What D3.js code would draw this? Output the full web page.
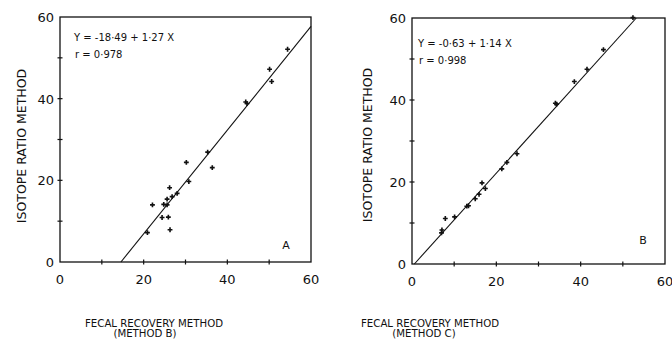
<!DOCTYPE html>
<html>
  <head>
    <script src="https://d3js.org/d3.v7.min.js"></script>
    <style>
      body { margin: 0; background: #fff; }
      text { font-family: "DejaVu Sans", sans-serif; fill: #111; }
    </style>
  </head>
  <body>
    <div id="chart"></div>
    <script>
      // panel A: fecal recovery (method B) vs isotope ratio
      var aX = [54.4, 50.1, 50.6, 44.4, 44.7, 35.3, 36.4, 30.2, 30.8, 28.0, 26.8, 26.2, 25.6, 24.8, 25.6, 22.1, 24.4, 25.9, 26.3, 20.9];
      var aY = [52.1, 47.2, 44.2, 39.2, 38.8, 26.9, 23.1, 24.4, 19.7, 16.8, 16.0, 18.2, 15.4, 14.1, 14.0, 14.0, 10.9, 11.0, 7.9, 7.2];
      // panel B: fecal recovery (method C) vs isotope ratio
      var bX = [52.4, 45.4, 41.5, 38.5, 34.0, 34.3, 24.9, 22.5, 21.3, 17.4, 16.6, 15.9, 15.0, 13.0, 13.4, 10.1, 7.9, 7.1, 7.0];
      var bY = [60.1, 52.3, 47.5, 44.5, 39.2, 39.0, 26.9, 24.8, 23.2, 18.4, 19.8, 17.0, 15.9, 14.1, 14.2, 11.5, 11.1, 8.3, 7.6];

      var fitA = { a: -18.49, b: 1.27 };
      var fitB = { a: -0.63, b: 1.14 };

      var majorTicks = [0, 20, 40, 60];
      var minorTicks = [10, 20, 30, 40, 50];

      var svg = d3.select("#chart").append("svg")
        .attr("width", 672)
        .attr("height", 344);

      function panel(opt) {
        var x = d3.scaleLinear().domain([0, 60]).range([opt.left, opt.right]);
        var y = d3.scaleLinear().domain([0, 60]).range([opt.bottom, opt.top]);
        var g = svg.append("g");

        // frame
        g.append("rect")
          .attr("x", x(0)).attr("y", y(60))
          .attr("width", x(60) - x(0)).attr("height", y(0) - y(60))
          .attr("fill", "none").attr("stroke", "#111").attr("stroke-width", 1.3);

        // ticks crossing the axes
        g.selectAll("line.xt").data(minorTicks).enter().append("line")
          .attr("x1", d => x(d)).attr("x2", d => x(d))
          .attr("y1", y(0) - 2.5).attr("y2", y(0) + 2.5)
          .attr("stroke", "#111").attr("stroke-width", 1.2);
        g.selectAll("line.yt").data(minorTicks).enter().append("line")
          .attr("y1", d => y(d)).attr("y2", d => y(d))
          .attr("x1", x(0) - 2.5).attr("x2", x(0) + 2.5)
          .attr("stroke", "#111").attr("stroke-width", 1.2);

        g.selectAll("text.xl").data(majorTicks).enter().append("text")
          .attr("x", d => x(d)).attr("y", y(0) + 22)
          .attr("text-anchor", "middle")
          .attr("font-size", "13px")
          .text(d => d);
        g.selectAll("text.yl").data(majorTicks).enter().append("text")
          .attr("x", x(0) - 6).attr("y", d => y(d) + 5)
          .attr("text-anchor", "end")
          .attr("font-size", "13px")
          .text(d => d);

        // regression line
        var fit = opt.fit;
        var x0 = -fit.a / fit.b;
        var x1 = Math.min(60, (60 - fit.a) / fit.b);
        g.append("line")
          .attr("x1", x(x0)).attr("y1", y(0))
          .attr("x2", x(x1)).attr("y2", y(fit.a + fit.b * x1))
          .attr("stroke", "#111").attr("stroke-width", 1.1);

        // points
        g.selectAll("path.pt").data(opt.xs).enter().append("path")
          .attr("d", d3.symbol().type(d3.symbolCross).size(13))
          .attr("transform", (d, i) => "translate(" + x(d) + "," + y(opt.ys[i]) + ")")
          .attr("fill", "#111");

        // equation
        g.append("text").attr("x", opt.eqX).attr("y", opt.eqY)
          .attr("font-size", "10px").text(opt.eq);
        g.append("text").attr("x", opt.eqX + 1).attr("y", opt.eqY + 17)
          .attr("font-size", "10px").text(opt.r);

        g.append("text").attr("x", opt.tagX).attr("y", opt.tagY)
          .attr("text-anchor", "middle").attr("font-size", "11px").text(opt.tag);

        // axis titles
        g.append("text")
          .attr("transform", "translate(" + opt.yTitleX + "," + opt.yTitleY + ") rotate(-90)")
          .attr("text-anchor", "middle").attr("dy", "0.35em")
          .attr("font-size", "12.5px")
          .text("ISOTOPE RATIO METHOD");
        g.append("text")
          .attr("x", opt.xTitleX).attr("y", 327)
          .attr("text-anchor", "middle").attr("font-size", "10.2px")
          .text("FECAL RECOVERY METHOD");
        g.append("text")
          .attr("x", opt.xTitleX2).attr("y", 337)
          .attr("text-anchor", "middle").attr("font-size", "10.2px")
          .text(opt.method);
      }

      panel({
        left: 60, right: 311, top: 17, bottom: 262,
        xs: aX, ys: aY, fit: fitA,
        eq: "Y = -18·49 + 1·27 X", r: "r = 0·978", eqX: 74, eqY: 41,
        tag: "A", tagX: 286, tagY: 249,
        yTitleX: 22, yTitleY: 146, xTitleX: 154, xTitleX2: 145, method: "(METHOD B)"
      });
      panel({
        left: 412, right: 665, top: 18, bottom: 264,
        xs: bX, ys: bY, fit: fitB,
        eq: "Y = -0·63 + 1·14 X", r: "r = 0·998", eqX: 418, eqY: 47,
        tag: "B", tagX: 643, tagY: 244,
        yTitleX: 368, yTitleY: 145, xTitleX: 430, xTitleX2: 424, method: "(METHOD C)"
      });
    </script>
  </body>
</html>
